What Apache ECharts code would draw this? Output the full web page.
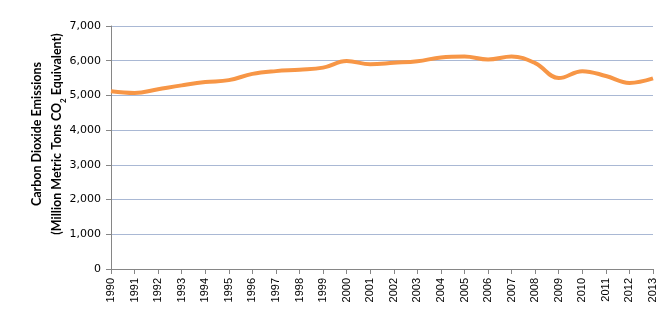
<!DOCTYPE html>
<html><head><meta charset="utf-8">
<script src="https://cdn.jsdelivr.net/npm/echarts@6/dist/echarts.min.js"></script>
<style>html,body{margin:0;padding:0;background:#fff}#c{width:671px;height:327px}</style>
</head><body><div id="c"></div>
<script>
var years = ['1990','1991','1992','1993','1994','1995','1996','1997','1998','1999','2000','2001','2002','2003','2004','2005','2006','2007','2008','2009','2010','2011','2012','2013'];
var emissions = [5121,5071,5180,5290,5385,5440,5620,5700,5740,5800,5990,5900,5940,5985,6095,6123,6035,6122,5930,5500,5700,5560,5360,5490];
var yTicks = [0,1000,2000,3000,4000,5000,6000,7000];

var chart = echarts.init(document.getElementById('c'));
chart.setOption({
  animation:false,
  grid:{left:111,right:18,top:26,bottom:58},
  xAxis:{type:'category',data:years,boundaryGap:false,
    axisLine:{lineStyle:{color:'#868686',width:1}},
    axisTick:{show:true,alignWithLabel:true,length:5,lineStyle:{color:'#868686'}},
    axisLabel:{rotate:90,interval:0,color:'#000',fontFamily:'Liberation Sans',fontSize:11,margin:9},
    splitLine:{show:false}},
  yAxis:{type:'value',min:yTicks[0],max:yTicks[yTicks.length-1],interval:1000,
    axisLine:{show:true,lineStyle:{color:'#868686',width:1}},
    axisTick:{show:true,length:5,lineStyle:{color:'#868686'}},
    axisLabel:{color:'#000',fontFamily:'DejaVu Sans',fontSize:11,margin:10,
      formatter:function(v){return v.toLocaleString('en-US');}},
    splitLine:{lineStyle:{color:'#a9b8d4',width:1}}},
  graphic:[{type:'text',x:47,y:134,rotation:Math.PI/2,
    style:{text:'Carbon Dioxide Emissions\n(Million Metric Tons CO{sub|2} Equivalent)',
      align:'center',verticalAlign:'middle',lineHeight:20,
      font:'bold 12.5px Lato',fill:'#000',
      rich:{sub:{font:'bold 8px Lato',verticalAlign:'bottom',padding:[6,0,0,0]}}}}],
  series:[{type:'line',data:emissions,smooth:0.4,symbol:'none',
    lineStyle:{color:'#f79646',width:4}}]
});
</script></body></html>
